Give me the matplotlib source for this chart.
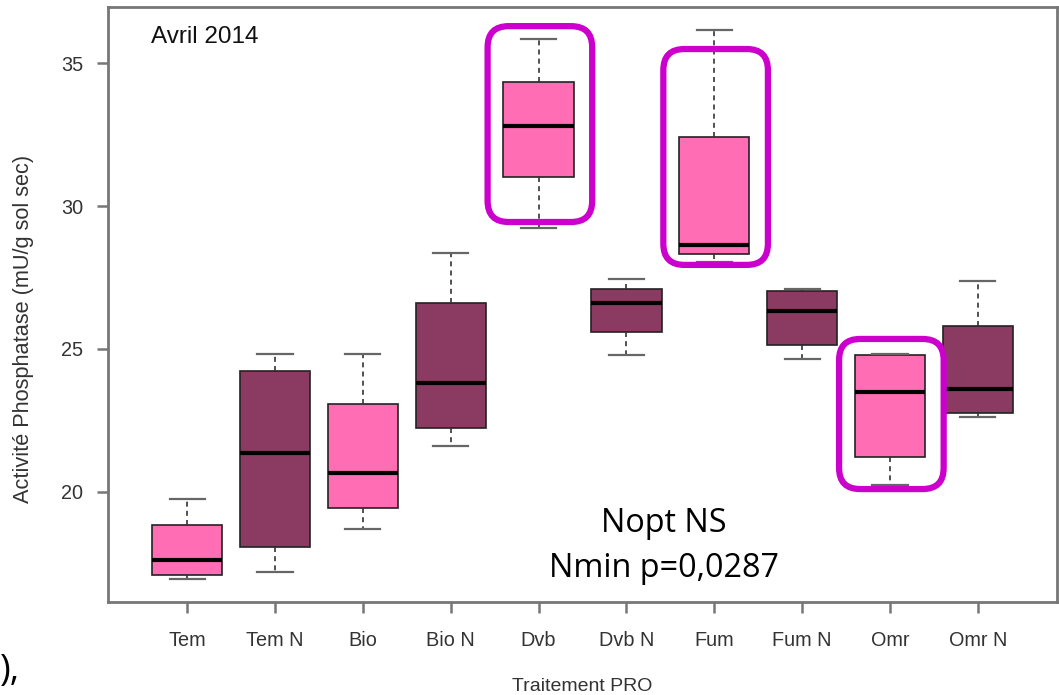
import matplotlib
matplotlib.use("Agg")
import matplotlib.pyplot as plt
from matplotlib.patches import FancyBboxPatch

categories = ["Tem", "Tem N", "Bio", "Bio N", "Dvb", "Dvb N", "Fum", "Fum N", "Omr", "Omr N"]
whisk_low = [16.96, 17.20, 18.71, 21.61, 29.23, 24.79, 28.04, 24.65, 20.24, 22.62]
q1        = [17.10, 18.08, 19.44, 22.24, 31.01, 25.59, 28.32, 25.14, 21.22, 22.76]
medians   = [17.62, 21.36, 20.66, 23.82, 32.80, 26.59, 28.64, 26.33, 23.50, 23.60]
q3        = [18.85, 24.23, 23.08, 26.61, 34.34, 27.10, 32.41, 27.03, 24.79, 25.80]
whisk_high= [19.76, 24.83, 24.83, 28.37, 35.84, 27.45, 36.15, 27.10, 24.83, 27.38]
fill_colors = ["#FF6EB4", "#8B3A62"] * 5
highlighted = ["Dvb", "Fum", "Omr"]
highlight_top = [36.29, 35.49, 25.35]
highlight_bottom = [29.44, 27.94, 20.10]
yticks = [20, 25, 30, 35]

plt.rcParams['font.family'] = ['Liberation Sans', 'DejaVu Sans']

fig = plt.figure(figsize=(10.59, 6.95), dpi=100)
ax = fig.add_axes([108/1059, 93/695, 949/1059, 595/695])

positions = list(range(1, len(categories) + 1))
stats = []
for i, c in enumerate(categories):
    stats.append(dict(label=c, whislo=whisk_low[i], q1=q1[i], med=medians[i],
                      q3=q3[i], whishi=whisk_high[i], fliers=[]))

bp = ax.bxp(stats, positions=positions, widths=0.8, patch_artist=True,
            showfliers=False,
            boxprops=dict(edgecolor="#222222", linewidth=1.2),
            medianprops=dict(color="black", linewidth=3.0),
            whiskerprops=dict(color="#333333", linewidth=1.2, linestyle=(0, (3, 2.5))),
            capprops=dict(color="#666666", linewidth=1.6),
            capwidths=0.4)
for patch, col in zip(bp['boxes'], fill_colors):
    patch.set_facecolor(col)

ax.set_xlim(0.1, 10.9)
ax.set_ylim(16.15, 36.96)
ax.set_yticks(yticks)
ax.set_xticks(positions)
ax.set_xticklabels(categories)

for sp in ax.spines.values():
    sp.set_color("#777777")
    sp.set_linewidth(2.0)
ax.tick_params(axis='both', direction='out', length=8, width=1.8, color="#777777",
               labelsize=14.3, labelcolor="#333333")
ax.tick_params(axis='y', pad=10)
ax.tick_params(axis='x', pad=13)

ax.set_xlabel("Traitement PRO", fontsize=14, color="#333333", labelpad=20)
ax.set_ylabel("Activité Phosphatase (mU/g sol sec)", fontsize=15.7, color="#333333")
ax.yaxis.set_label_coords(-0.078, 0.4597)

ax.text(0.045, 0.9496, "Avril 2014", transform=ax.transAxes, fontsize=17.5,
        color="#111111", ha="left", va="center")

# highlight rounded rectangles
ppx = 949 / (10.9 - 0.1)
ppy = 595 / (36.96 - 16.15)
aspect = ppx / ppy
for name, top, bot in zip(highlighted, highlight_top, highlight_bottom):
    p = categories.index(name) + 1
    rect = FancyBboxPatch((p - 0.58, bot), 1.19, top - bot,
                          boxstyle="round,pad=0,rounding_size=0.24",
                          mutation_aspect=aspect,
                          fill=False, edgecolor="#CC00CC", linewidth=4.5,
                          zorder=5, clip_on=False)
    ax.add_patch(rect)

ax.text(6.43, 18.9, "Nopt NS", fontsize=23.3, family=['Open Sans', 'DejaVu Sans'],
        ha="center", va="center", color="black")
ax.text(6.43, 17.33, "Nmin p=0,0287", fontsize=23.3, family=['Open Sans', 'DejaVu Sans'],
        ha="center", va="center", color="black")

fig.text(0.0, (695 - 671) / 695, "),", fontsize=26,
         family=['Open Sans', 'DejaVu Sans'], ha="left", va="center", color="black")

fig.savefig("out.png", dpi=100)
